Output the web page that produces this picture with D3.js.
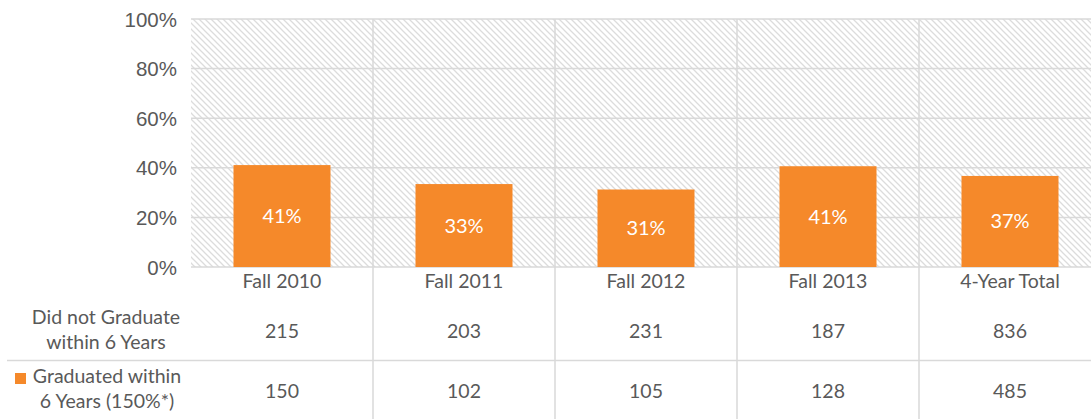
<!DOCTYPE html>
<html>
  <head>
    <meta charset="utf-8">
    <title>Six-year graduation rate</title>
    <script src="https://d3js.org/d3.v7.min.js"></script>
    <style>
      body { margin: 0; background: white; }
      svg { display: block; font-family: Lato, "Open Sans", sans-serif; }
    </style>
  </head>
  <body>
    <svg id="chart" width="1091" height="419"></svg>
    <script>
      // data
      const cohorts = ["Fall 2010", "Fall 2011", "Fall 2012", "Fall 2013", "4-Year Total"];
      const notGraduated = [215, 203, 231, 187, 836];
      const graduated = [150, 102, 105, 128, 485];
      const yTicks = [0, 0.2, 0.4, 0.6, 0.8, 1];
      const rowLabels = [["Did not Graduate", "within 6 Years"], ["Graduated within", "6 Years (150%*)"]];

      const grid = "#d9d9d9";
      const orange = "#f5892a";
      const textColor = "#595959";

      svg = d3.select("#chart");
      left = 191;
      right = 1101;
      top0 = 19;
      bottom0 = 267;

      // scales
      x = d3.scaleBand().domain(cohorts).range([left, right]);
      xBar = d3.scaleBand().domain(cohorts).range([left, right])
        .paddingInner(0.467).paddingOuter(0.2335);
      y = d3.scaleLinear().domain([0, 1]).range([bottom0, top0]);

      // hatch pattern for the remainder
      defs = svg.append("defs");
      pattern = defs.append("pattern")
        .attr("id", "hatch")
        .attr("patternUnits", "userSpaceOnUse")
        .attr("width", 6)
        .attr("height", 6);
      pattern.append("path")
        .attr("d", "M0,0 L6,6 M-1,5 L1,7 M5,-1 L7,1")
        .attr("stroke", "#dcdcdc")
        .attr("stroke-width", 1.3);

      svg.append("rect")
        .attr("x", left)
        .attr("y", y(1))
        .attr("width", right - left)
        .attr("height", y(0) - y(1))
        .attr("fill", "url(#hatch)");

      // horizontal gridlines
      svg.append("g")
        .selectAll("line")
        .data(yTicks)
        .join("line")
          .attr("x1", left)
          .attr("x2", right)
          .attr("y1", d => y(d))
          .attr("y2", d => y(d))
          .attr("stroke", grid)
          .attr("stroke-width", 1.5);

      // vertical gridlines running through the table
      svg.append("g")
        .selectAll("line")
        .data(cohorts.slice(1))
        .join("line")
          .attr("x1", d => x(d))
          .attr("x2", d => x(d))
          .attr("y1", y(1))
          .attr("y2", 419)
          .attr("stroke", grid)
          .attr("stroke-width", 1.5);

      // table row divider
      svg.append("line")
        .attr("x1", 7)
        .attr("x2", right)
        .attr("y1", 360.5)
        .attr("y2", 360.5)
        .attr("stroke", grid)
        .attr("stroke-width", 1.5);

      // y axis
      yAxis = svg.append("g")
        .attr("transform", "translate(" + (left - 11) + ",0)")
        .call(d3.axisLeft(y).tickValues(yTicks).tickFormat(d3.format(".0%")).tickSize(0));
      yAxis.select(".domain").remove();
      yAxis.selectAll("text")
        .attr("font-size", 20.5)
        .attr("dy", "0.35em")
        .style("fill", textColor);

      // bars
      rates = cohorts.map((c, i) => graduated[i] / (graduated[i] + notGraduated[i]));
      svg.append("g")
        .selectAll("rect")
        .data(cohorts)
        .join("rect")
          .attr("x", d => xBar(d))
          .attr("width", xBar.bandwidth())
          .attr("y", (d, i) => y(rates[i]))
          .attr("height", (d, i) => y(0) - y(rates[i]))
          .attr("fill", orange);

      svg.append("g")
        .selectAll("text")
        .data(cohorts)
        .join("text")
          .attr("x", d => xBar(d) + xBar.bandwidth() / 2)
          .attr("y", (d, i) => (y(rates[i]) + y(0)) / 2)
          .attr("dy", "0.35em")
          .attr("text-anchor", "middle")
          .attr("font-size", 20)
          .attr("fill", "white")
          .text((d, i) => d3.format(".0%")(rates[i]));

      // category labels
      svg.append("g")
        .selectAll("text")
        .data(cohorts)
        .join("text")
          .attr("x", d => x(d) + x.bandwidth() / 2)
          .attr("y", 288)
          .attr("text-anchor", "middle")
          .attr("font-size", 19.5)
          .attr("fill", textColor)
          .text(d => d);

      // table values
      [notGraduated, graduated].forEach(function(row, r) {
        svg.append("g")
          .selectAll("text")
          .data(row)
          .join("text")
            .attr("x", (d, i) => x(cohorts[i]) + x.bandwidth() / 2)
            .attr("y", r === 0 ? 338 : 398)
            .attr("text-anchor", "middle")
            .attr("font-size", 19.5)
            .attr("fill", textColor)
            .text(d => d);
      });

      // row labels
      rowLabels.forEach(function(lines, r) {
        svg.append("g")
          .selectAll("text")
          .data(lines)
          .join("text")
            .attr("x", r === 0 ? 106 : 107)
            .attr("y", (d, i) => (r === 0 ? 324 : 383) + i * 25)
            .attr("text-anchor", "middle")
            .attr("font-size", 19.5)
            .attr("fill", textColor)
            .text(d => d);
      });
      svg.append("rect")
        .attr("x", 15)
        .attr("y", 373)
        .attr("width", 11)
        .attr("height", 11)
        .attr("fill", orange);
    </script>
  </body>
</html>
